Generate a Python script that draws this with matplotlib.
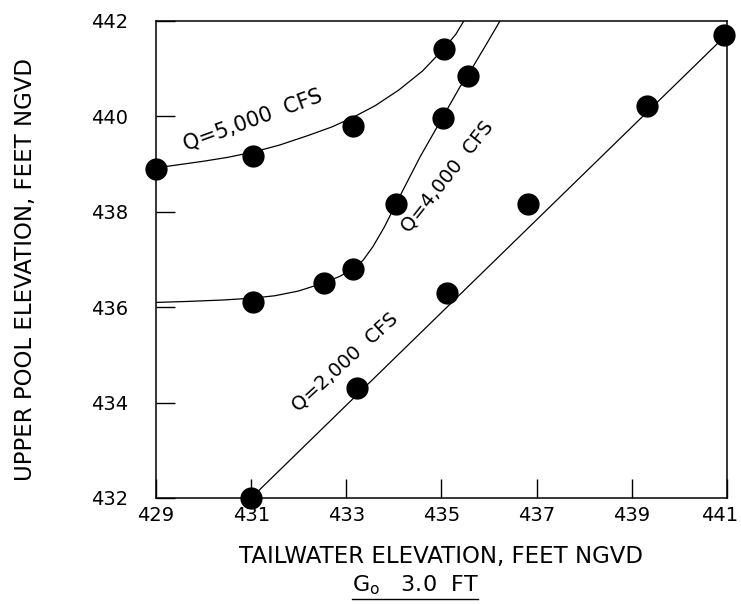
import numpy as np
import matplotlib.pyplot as plt
import matplotlib.transforms as mtransforms
from matplotlib.lines import Line2D

# measured points (tailwater, upper pool), feet NGVD
q5000_x = [429.0, 431.04, 433.14, 435.05]
q5000_y = [438.9, 439.18, 439.8, 441.42]
q4000_x = [431.04, 432.53, 433.14, 434.04, 435.03, 435.56]
q4000_y = [436.11, 436.5, 436.8, 438.17, 439.97, 440.85]
q2000_x = [431.0, 433.22, 435.12, 436.82, 439.32, 440.94]
q2000_y = [432.0, 434.31, 436.3, 438.16, 440.22, 441.71]

# hand-drawn curves traced from the sheet
q5000_curve_x = [429.0, 429.5, 430.0, 430.5, 431.04, 431.6, 432.2, 432.7, 433.14,
                 433.6, 434.1, 434.6, 435.05, 435.3, 435.47]
q5000_curve_y = [438.92, 438.99, 439.06, 439.14, 439.25, 439.4, 439.6, 439.78, 439.98,
                 440.22, 440.55, 440.95, 441.42, 441.72, 442.0]
q4000_curve_x = [429.0, 429.65, 430.4, 431.04, 431.5, 432.0, 432.53, 432.85, 433.14,
                 433.35, 433.56, 433.8, 434.04, 434.55, 435.03, 435.39, 435.56,
                 435.96, 436.23]
q4000_curve_y = [436.1, 436.12, 436.15, 436.19, 436.24, 436.34, 436.51, 436.64, 436.8,
                 436.98, 437.27, 437.68, 438.16, 439.15, 439.99, 440.62, 440.87,
                 441.54, 442.0]
q2000_line_x = [431.0, 441.0]
q2000_line_y = [432.0, 441.72]

x_ticks = [429, 431, 433, 435, 437, 439, 441]
y_ticks = [432, 434, 436, 438, 440, 442]

fig = plt.figure(figsize=(7.41, 6.05), dpi=100)
ax = fig.add_axes([0.2105, 0.1769, 0.7705, 0.7884])

for cx, cy in [(q5000_curve_x, q5000_curve_y), (q4000_curve_x, q4000_curve_y),
               (q2000_line_x, q2000_line_y)]:
    ax.plot(cx, cy, color='black', linewidth=0.9, solid_joinstyle='round')

for px, py in [(q5000_x, q5000_y), (q4000_x, q4000_y), (q2000_x, q2000_y)]:
    ax.plot(px, py, linestyle='none', marker='o', markersize=15,
            color='black', clip_on=False, zorder=5)

ax.text(431.04, 439.92, 'Q=5,000  CFS', rotation=20, fontsize=15,
        ha='center', va='center', rotation_mode='anchor')
ax.text(435.12, 438.74, 'Q=4,000  CFS', rotation=51.5, fontsize=14,
        ha='center', va='center', rotation_mode='anchor')
ax.text(432.97, 434.85, 'Q=2,000  CFS', rotation=42.5, fontsize=14,
        ha='center', va='center', rotation_mode='anchor')

ax.set_xlim(429, 441)
ax.set_ylim(432, 442)
ax.set_xticks(x_ticks)
ax.set_yticks(y_ticks)
ax.tick_params(axis='x', direction='in', length=14, width=1, labelsize=14, pad=6)
ax.tick_params(axis='y', direction='in', length=14, width=1, labelsize=14, pad=20)
for s in ax.spines.values():
    s.set_linewidth(1.1)

# last x label sits at the paper edge, nudge it in a little
last = ax.get_xticklabels()[-1]
last.set_transform(last.get_transform() +
                   mtransforms.ScaledTranslation(-5 / 72, 0, fig.dpi_scale_trans))

ax.set_xlabel('TAILWATER ELEVATION, FEET NGVD', fontsize=16.5, labelpad=14)
ax.set_ylabel('UPPER POOL ELEVATION, FEET NGVD', fontsize=16.5)
ax.yaxis.set_label_coords(-0.208, 0.48)

sub = fig.text(0.56, 0.022, 'G$_\\mathregular{o}$   3.0  FT', fontsize=16,
               ha='center', va='baseline')
fig.canvas.draw()
bb = sub.get_window_extent(renderer=fig.canvas.get_renderer())
y_line = (bb.y0 - 2) / fig.bbox.height
fig.add_artist(Line2D([bb.x0 / fig.bbox.width, bb.x1 / fig.bbox.width],
                      [y_line, y_line], color='black', linewidth=1.0))

fig.savefig('out.png', dpi=100)
